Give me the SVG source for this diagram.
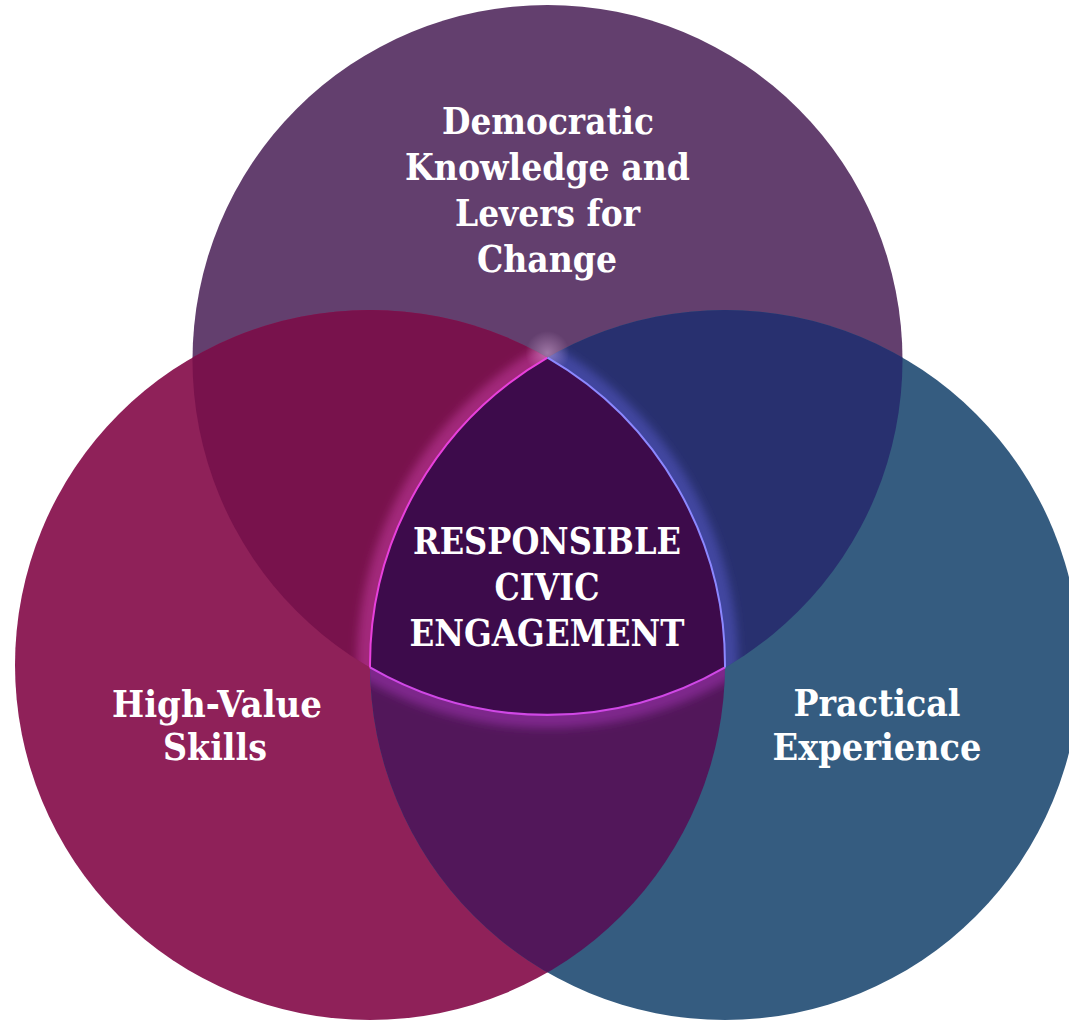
<svg xmlns="http://www.w3.org/2000/svg" width="1069" height="1020" viewBox="0 0 1069 1020">
<style>
.lbl{font-family:"DejaVu Serif","Liberation Serif",serif;font-weight:bold;font-size:37px;fill:#ffffff;text-anchor:middle}
</style>
<defs>
<clipPath id="cTop"><circle cx="547.5" cy="360" r="355"/></clipPath>
<clipPath id="cLeft"><circle cx="370" cy="665" r="355"/></clipPath>
<clipPath id="cRight"><circle cx="725" cy="665" r="355"/></clipPath>
<filter id="blur" x="-20%" y="-20%" width="140%" height="140%"><feGaussianBlur stdDeviation="5"/></filter>
<radialGradient id="apex" cx="0.5" cy="0.5" r="0.5">
<stop offset="0" stop-color="#ffd0ff" stop-opacity="0.38"/>
<stop offset="1" stop-color="#ffd0ff" stop-opacity="0"/>
</radialGradient>
</defs>
<rect width="1069" height="1020" fill="#ffffff"/>
<g id="circle-top"><circle cx="547.5" cy="360" r="355" fill="#633f6e"/></g>
<g id="circle-left"><circle cx="370" cy="665" r="355" fill="#8f2159"/></g>
<g id="circle-right"><circle cx="725" cy="665" r="355" fill="#355c80"/></g>
<g id="overlaps">
<g clip-path="url(#cTop)"><circle cx="370" cy="665" r="355" fill="#78124c"/></g>
<g clip-path="url(#cTop)"><circle cx="725" cy="665" r="355" fill="#28306f"/></g>
<g clip-path="url(#cLeft)"><circle cx="725" cy="665" r="355" fill="#52175a"/></g>
</g>
<g id="glows">
<g clip-path="url(#cTop)"><g clip-path="url(#cLeft)"><circle cx="725" cy="665" r="355" fill="none" stroke="#e048c0" stroke-opacity="0.4" stroke-width="26" filter="url(#blur)"/></g></g>
<g clip-path="url(#cTop)"><g clip-path="url(#cRight)"><circle cx="370" cy="665" r="355" fill="none" stroke="#6a6ae8" stroke-opacity="0.4" stroke-width="26" filter="url(#blur)"/></g></g>
<g clip-path="url(#cLeft)"><g clip-path="url(#cRight)"><circle cx="547.5" cy="360" r="355" fill="none" stroke="#c040d8" stroke-opacity="0.4" stroke-width="26" filter="url(#blur)"/></g></g>
<circle cx="547.5" cy="353" r="22" fill="url(#apex)"/>
</g>
<g id="center">
<path d="M547.5 357.6 A355 355 0 0 0 370 667.4 A355 355 0 0 0 725 667.4 A355 355 0 0 0 547.5 357.6 Z" fill="#3d0b4b"/>
<path d="M547.5 357.6 A355 355 0 0 0 370 667.4" fill="none" stroke="#e840dc" stroke-width="2"/>
<path d="M370 667.4 A355 355 0 0 0 725 667.4" fill="none" stroke="#d048e6" stroke-width="2.2"/>
<path d="M725 667.4 A355 355 0 0 0 547.5 357.6" fill="none" stroke="#8c88ff" stroke-width="2"/>
<text class="lbl" x="547" y="554" textLength="268" lengthAdjust="spacingAndGlyphs">RESPONSIBLE</text>
<text class="lbl" x="547" y="600" textLength="105" lengthAdjust="spacingAndGlyphs">CIVIC</text>
<text class="lbl" x="547" y="646" textLength="275" lengthAdjust="spacingAndGlyphs">ENGAGEMENT</text>
</g>
<g id="label-top">
<text class="lbl" x="548" y="134" textLength="212" lengthAdjust="spacingAndGlyphs">Democratic</text>
<text class="lbl" x="547.5" y="180" textLength="285" lengthAdjust="spacingAndGlyphs">Knowledge and</text>
<text class="lbl" x="547.5" y="226" textLength="185" lengthAdjust="spacingAndGlyphs">Levers for</text>
<text class="lbl" x="547" y="272" textLength="140" lengthAdjust="spacingAndGlyphs">Change</text>
</g>
<g id="label-left">
<text class="lbl" x="217" y="717" textLength="210" lengthAdjust="spacingAndGlyphs">High-Value</text>
<text class="lbl" x="215" y="760" textLength="104" lengthAdjust="spacingAndGlyphs">Skills</text>
</g>
<g id="label-right">
<text class="lbl" x="877" y="716" textLength="167" lengthAdjust="spacingAndGlyphs">Practical</text>
<text class="lbl" x="877" y="760" textLength="209" lengthAdjust="spacingAndGlyphs">Experience</text>
</g>
<g id="connectors"/>
</svg>
